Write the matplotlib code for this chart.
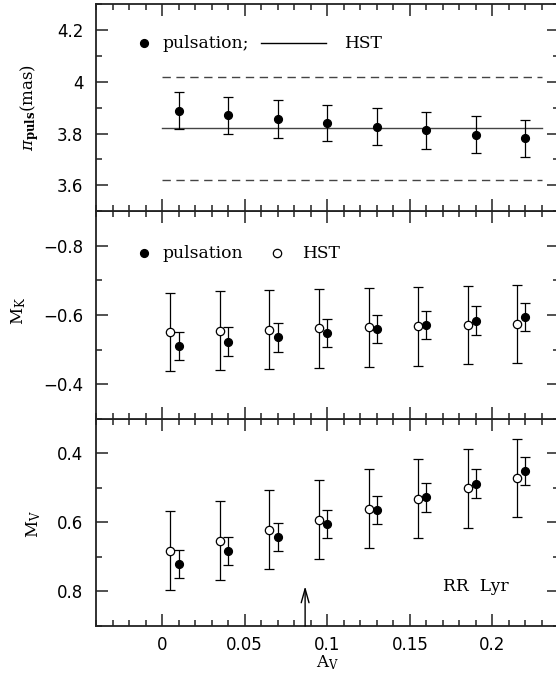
import matplotlib
matplotlib.use('Agg')
import matplotlib.pyplot as plt
from matplotlib.ticker import MultipleLocator, FuncFormatter

# ---------------- data ----------------
av_puls = [0.01, 0.04, 0.07, 0.10, 0.13, 0.16, 0.19, 0.22]
av_hst = [0.005, 0.035, 0.065, 0.095, 0.125, 0.155, 0.185, 0.215]

plx_puls = [3.888, 3.871, 3.856, 3.841, 3.826, 3.812, 3.796, 3.782]
plx_puls_err = [0.072, 0.071, 0.072, 0.071, 0.071, 0.071, 0.071, 0.071]
plx_hst = 3.82
plx_hst_err = 0.20
plx_hst_range = [0.0, 0.23]

mk_puls = [-0.511, -0.523, -0.535, -0.548, -0.560, -0.571, -0.584, -0.595]
mk_puls_err = [0.040, 0.041, 0.041, 0.041, 0.041, 0.041, 0.041, 0.041]
mk_hst = [-0.551, -0.555, -0.558, -0.561, -0.564, -0.567, -0.571, -0.574]
mk_hst_err = [0.114, 0.115, 0.113, 0.114, 0.114, 0.114, 0.114, 0.114]

mv_puls = [0.720, 0.682, 0.643, 0.605, 0.565, 0.528, 0.488, 0.451]
mv_puls_err = [0.041, 0.041, 0.041, 0.041, 0.041, 0.041, 0.041, 0.041]
mv_hst = [0.682, 0.653, 0.621, 0.592, 0.561, 0.532, 0.502, 0.472]
mv_hst_err = [0.114, 0.115, 0.115, 0.114, 0.114, 0.114, 0.113, 0.114]

arrow_av = 0.0866

# ---------------- style ----------------
plt.rcParams['mathtext.fontset'] = 'dejavuserif'
plt.rcParams['font.family'] = ['DejaVu Sans']

fig = plt.figure(figsize=(5.56, 6.83), dpi=100)
W, H = 556.0, 683.0
left = 96 / W
width = 462.5 / W
bottom0 = (H - 626) / H
ph = (626 - 4) / 3 / H

ax_v = fig.add_axes([left, bottom0, width, ph])
ax_k = fig.add_axes([left, bottom0 + ph, width, ph], sharex=ax_v)
ax_p = fig.add_axes([left, bottom0 + 2 * ph, width, ph], sharex=ax_v)

serif = ['DejaVu Serif']
lab_fs = 12
leg_fs = 12.3

def fmt(v, pos):
    s = '%g' % v
    return s.replace('-', '\u2212')

for ax in (ax_p, ax_k, ax_v):
    for sp in ax.spines.values():
        sp.set_linewidth(1.3)
        sp.set_color('#222222')
    ax.tick_params(which='both', direction='in', top=True, right=True,
                   width=1.1, color='#222222', labelsize=12)
    ax.tick_params(which='major', length=8.8)
    ax.tick_params(which='minor', length=4.4)
    ax.tick_params(axis='y', pad=9)
    ax.xaxis.set_major_locator(MultipleLocator(0.05))
    ax.xaxis.set_minor_locator(MultipleLocator(0.01))
    ax.yaxis.set_major_formatter(FuncFormatter(fmt))
    ax.xaxis.set_major_formatter(FuncFormatter(fmt))

ax_v.set_xlim(-0.04, 0.24)
ax_p.tick_params(labelbottom=False)
ax_k.tick_params(labelbottom=False)

ebkw = dict(fmt='none', ecolor='black', elinewidth=0.9, capsize=3.4, capthick=0.9)

# ---- top panel: parallax ----
ax_p.set_ylim(3.5, 4.3)
ax_p.yaxis.set_major_locator(MultipleLocator(0.2))
ax_p.yaxis.set_minor_locator(MultipleLocator(0.1))
ax_p.plot(plx_hst_range, [plx_hst, plx_hst], color='#444444', lw=1.0)
ax_p.plot(plx_hst_range, [plx_hst + plx_hst_err] * 2, color='#444444', lw=1.0,
          dashes=(6, 4))
ax_p.plot(plx_hst_range, [plx_hst - plx_hst_err] * 2, color='#444444', lw=1.0,
          dashes=(6, 4))
ax_p.errorbar(av_puls, plx_puls, yerr=plx_puls_err, **ebkw)
ax_p.plot(av_puls, plx_puls, 'o', color='black', ms=5.6, ls='none')
# legend
ax_p.plot([-0.011], [4.148], 'o', color='black', ms=5.6)
ax_p.text(0.0, 4.148, 'pulsation;', family=serif, fontsize=leg_fs, va='center')
ax_p.plot([0.06, 0.099], [4.148, 4.148], color='black', lw=1.0)
ax_p.text(0.11, 4.148, 'HST', family=serif, fontsize=leg_fs, va='center')
ax_p.set_ylabel(r'$\pi_{\mathbf{puls}}\rm (mas)$', fontsize=lab_fs)
ax_p.yaxis.set_label_coords(-0.118, 0.5)

# ---- middle panel: M_K ----
ax_k.set_ylim(-0.3, -0.9)
ax_k.yaxis.set_major_locator(MultipleLocator(0.2))
ax_k.yaxis.set_minor_locator(MultipleLocator(0.1))
ax_k.errorbar(av_hst, mk_hst, yerr=mk_hst_err, **ebkw)
ax_k.plot(av_hst, mk_hst, 'o', mfc='white', mec='black', mew=0.9, ms=6.0, ls='none')
ax_k.errorbar(av_puls, mk_puls, yerr=mk_puls_err, **ebkw)
ax_k.plot(av_puls, mk_puls, 'o', color='black', ms=5.6, ls='none')
ax_k.plot([-0.011], [-0.779], 'o', color='black', ms=5.6)
ax_k.text(0.0, -0.779, 'pulsation', family=serif, fontsize=leg_fs, va='center')
ax_k.plot([0.0694], [-0.779], 'o', mfc='white', mec='black', mew=0.9, ms=6.0)
ax_k.text(0.0846, -0.779, 'HST', family=serif, fontsize=leg_fs, va='center')
ax_k.set_ylabel(r'$\rm M_K$', fontsize=lab_fs)
ax_k.yaxis.set_label_coords(-0.147, 0.52)

# ---- bottom panel: M_V ----
ax_v.set_ylim(0.9, 0.3)
ax_v.yaxis.set_major_locator(MultipleLocator(0.2))
ax_v.yaxis.set_minor_locator(MultipleLocator(0.1))
ax_v.errorbar(av_hst, mv_hst, yerr=mv_hst_err, **ebkw)
ax_v.plot(av_hst, mv_hst, 'o', mfc='white', mec='black', mew=0.9, ms=6.0, ls='none')
ax_v.errorbar(av_puls, mv_puls, yerr=mv_puls_err, **ebkw)
ax_v.plot(av_puls, mv_puls, 'o', color='black', ms=5.6, ls='none')
ax_v.annotate('', xy=(arrow_av, 0.785), xytext=(arrow_av, 0.9),
              arrowprops=dict(arrowstyle='->,head_length=1.0,head_width=0.28',
                              mutation_scale=10,
                              color='black', lw=1.0, shrinkA=0, shrinkB=0))
ax_v.text(0.17, 0.785, 'RR  Lyr', family=serif, fontsize=leg_fs, va='center')
ax_v.set_ylabel(r'$\rm M_V$', fontsize=lab_fs)
ax_v.yaxis.set_label_coords(-0.115, 0.49)
ax_v.set_xlabel(r'$\rm A_V$', fontsize=lab_fs)
ax_v.xaxis.set_label_coords(0.5, -0.13)
ax_v.tick_params(axis='x', pad=7)

fig.savefig('out.png', dpi=100)
